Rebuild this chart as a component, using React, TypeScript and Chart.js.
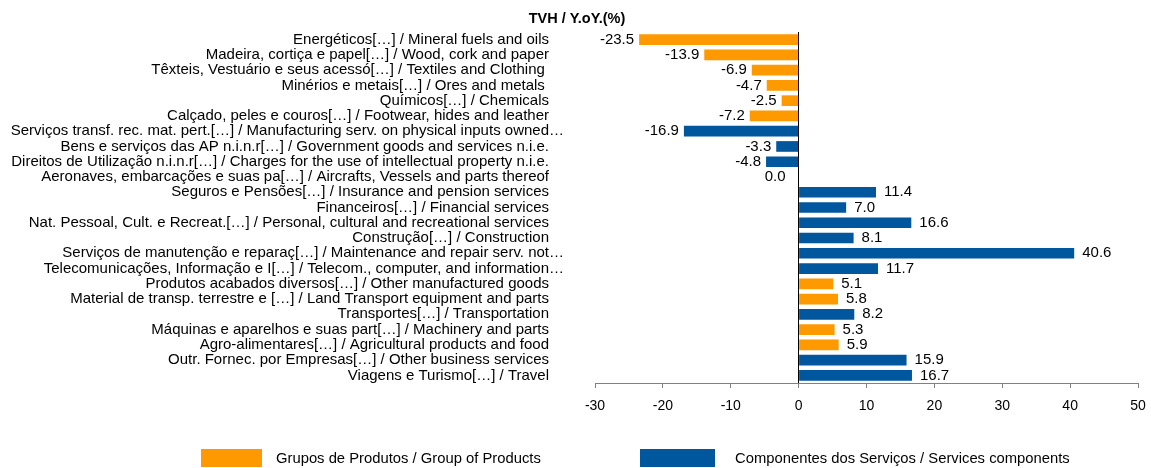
import React, { useEffect, useRef } from "react";
import { Chart, registerables } from "chart.js";

Chart.register(...registerables);

const FONT = "'Liberation Sans', Arial, sans-serif";

const categories: string[] = [
  "Energéticos[…] / Mineral fuels and oils",
  "Madeira, cortiça e papel[…] / Wood, cork and paper",
  "Têxteis, Vestuário e seus acessó[…] / Textiles and Clothing ",
  "Minérios e metais[…] / Ores and metals ",
  "Químicos[…] / Chemicals",
  "Calçado, peles e couros[…] / Footwear, hides and leather",
  "Serviços transf. rec. mat. pert.[…] / Manufacturing serv. on physical inputs owned…",
  "Bens e serviços das AP n.i.n.r[…] / Government goods and services n.i.e.",
  "Direitos de Utilização n.i.n.r[…] / Charges for the use of intellectual property n.i.e.",
  "Aeronaves, embarcações e suas pa[…] / Aircrafts, Vessels and parts thereof",
  "Seguros e Pensões[…] / Insurance and pension services",
  "Financeiros[…] / Financial services",
  "Nat. Pessoal, Cult. e Recreat.[…] / Personal, cultural and recreational services",
  "Construção[…] / Construction",
  "Serviços de manutenção e reparaç[…] / Maintenance and repair serv. not…",
  "Telecomunicações, Informação e I[…] / Telecom., computer, and information…",
  "Produtos acabados diversos[…] / Other manufactured goods",
  "Material de transp. terrestre e […] / Land Transport equipment and parts",
  "Transportes[…] / Transportation",
  "Máquinas e aparelhos e suas part[…] / Machinery and parts",
  "Agro-alimentares[…] / Agricultural products and food",
  "Outr. Fornec. por Empresas[…] / Other business services",
  "Viagens e Turismo[…] / Travel",
];

const productValues: (number | null)[] = [
  -23.5, -13.9, -6.9, -4.7, -2.5, -7.2, null, null, null, 0.0, null, null,
  null, null, null, null, 5.1, 5.8, null, 5.3, 5.9, null, null,
];

const serviceValues: (number | null)[] = [
  null, null, null, null, null, null, -16.9, -3.3, -4.8, null, 11.4, 7.0,
  16.6, 8.1, 40.6, 11.7, null, null, 8.2, null, null, 15.9, 16.7,
];

const seriesNames = [
  "Grupos de Produtos / Group of Products",
  "Componentes dos Serviços / Services components",
];
const seriesColors = ["#FF9900", "#00579E"];

const titleText = "TVH / Y.oY.(%)";
const xMin = -30;
const xMax = 50;
const xStep = 10;
const ELLIPSIS = "…";

const labelPlugin = {
  id: "valueLabels",
  afterDatasetsDraw(chart: any) {
    const ctx = chart.ctx;
    ctx.save();
    ctx.font = `15px ${FONT}`;
    ctx.fillStyle = "#000";
    ctx.textBaseline = "middle";
    chart.data.datasets.forEach((ds: any, di: number) => {
      const meta = chart.getDatasetMeta(di);
      meta.data.forEach((el: any, i: number) => {
        const v = ds.data[i];
        if (v === null || v === undefined) return;
        const txt = v.toFixed(1);
        if (v > 0) {
          ctx.textAlign = "left";
          ctx.fillText(txt, el.x + 8, el.y);
        } else {
          ctx.textAlign = "right";
          ctx.fillText(txt, el.x - (v === 0 ? 13 : 5), el.y);
        }
      });
    });
    ctx.restore();
  },
};

const decorPlugin = {
  id: "decor",
  afterDraw(chart: any) {
    const ctx = chart.ctx;
    ctx.save();
    // title
    ctx.font = `bold 14.5px ${FONT}`;
    ctx.fillStyle = "#000";
    ctx.textAlign = "center";
    ctx.textBaseline = "alphabetic";
    ctx.fillText(titleText, 577, 23);

    // overflowing ellipsis of truncated category labels
    const yScale = chart.scales.y;
    ctx.font = `15px ${FONT}`;
    ctx.textAlign = "left";
    ctx.textBaseline = "middle";
    categories.forEach((c, i) => {
      if (c.endsWith(ELLIPSIS)) {
        ctx.fillText(ELLIPSIS, yScale.right - 46, yScale.getPixelForValue(i));
      }
    });

    // legend
    const items = [
      { x: 201, w: 61, gap: 14 },
      { x: 640, w: 75, gap: 20 },
    ];
    ctx.font = `14.8px ${FONT}`;
    items.forEach((it, i) => {
      ctx.fillStyle = seriesColors[i];
      ctx.fillRect(it.x, 449, it.w, 18);
      ctx.fillStyle = "#000";
      ctx.fillText(seriesNames[i], it.x + it.w + it.gap, 459);
    });
    ctx.restore();
  },
};

export default function App() {
  const ref = useRef<HTMLCanvasElement | null>(null);

  useEffect(() => {
    document.body.style.margin = "0";
    const canvas = ref.current;
    if (!canvas) return;
    const chart = new Chart(canvas, {
      type: "bar",
      data: {
        labels: categories,
        datasets: [
          {
            label: seriesNames[0],
            data: productValues,
            backgroundColor: seriesColors[0],
            barPercentage: 0.7,
            categoryPercentage: 1,
          },
          {
            label: seriesNames[1],
            data: serviceValues,
            backgroundColor: seriesColors[1],
            barPercentage: 0.7,
            categoryPercentage: 1,
          },
        ],
      },
      options: {
        indexAxis: "y",
        responsive: false,
        animation: false,
        maintainAspectRatio: false,
        layout: { padding: { top: 32, right: 13, left: 0, bottom: 0 } },
        plugins: {
          legend: { display: false },
          tooltip: { enabled: false },
          title: { display: false },
        },
        scales: {
          x: {
            stacked: true,
            min: xMin,
            max: xMax,
            ticks: {
              stepSize: xStep,
              color: "#000",
              padding: 10,
              font: { family: FONT, size: 14 },
            },
            border: { display: true, color: "#808080", width: 1 },
            grid: {
              drawOnChartArea: true,
              drawTicks: true,
              tickLength: 5,
              tickColor: "#808080",
              color: (c: any) =>
                c.tick && c.tick.value === 0 ? "#000000" : "rgba(0,0,0,0)",
              lineWidth: 1,
            },
            afterFit: (scale: any) => {
              scale.height = 85;
              scale.paddingLeft = 0;
              scale.paddingRight = 0;
            },
          },
          y: {
            stacked: true,
            ticks: {
              color: "#000",
              padding: 46,
              autoSkip: false,
              font: { family: FONT, size: 15 },
              callback: (_v: any, i: number) => {
                const c = categories[i];
                return c.endsWith(ELLIPSIS) ? c.slice(0, -1) : c;
              },
            },
            border: { display: false },
            grid: { display: false, drawTicks: false },
            afterFit: (scale: any) => {
              scale.width = 595;
              scale.paddingTop = 0;
              scale.paddingBottom = 0;
            },
          },
        },
      },
      plugins: [labelPlugin, decorPlugin],
    });
    return () => chart.destroy();
  }, []);

  return (
    <div style={{ width: 1151, height: 468 }}>
      <canvas ref={ref} width={1151} height={468} style={{ display: "block" }} />
    </div>
  );
}
